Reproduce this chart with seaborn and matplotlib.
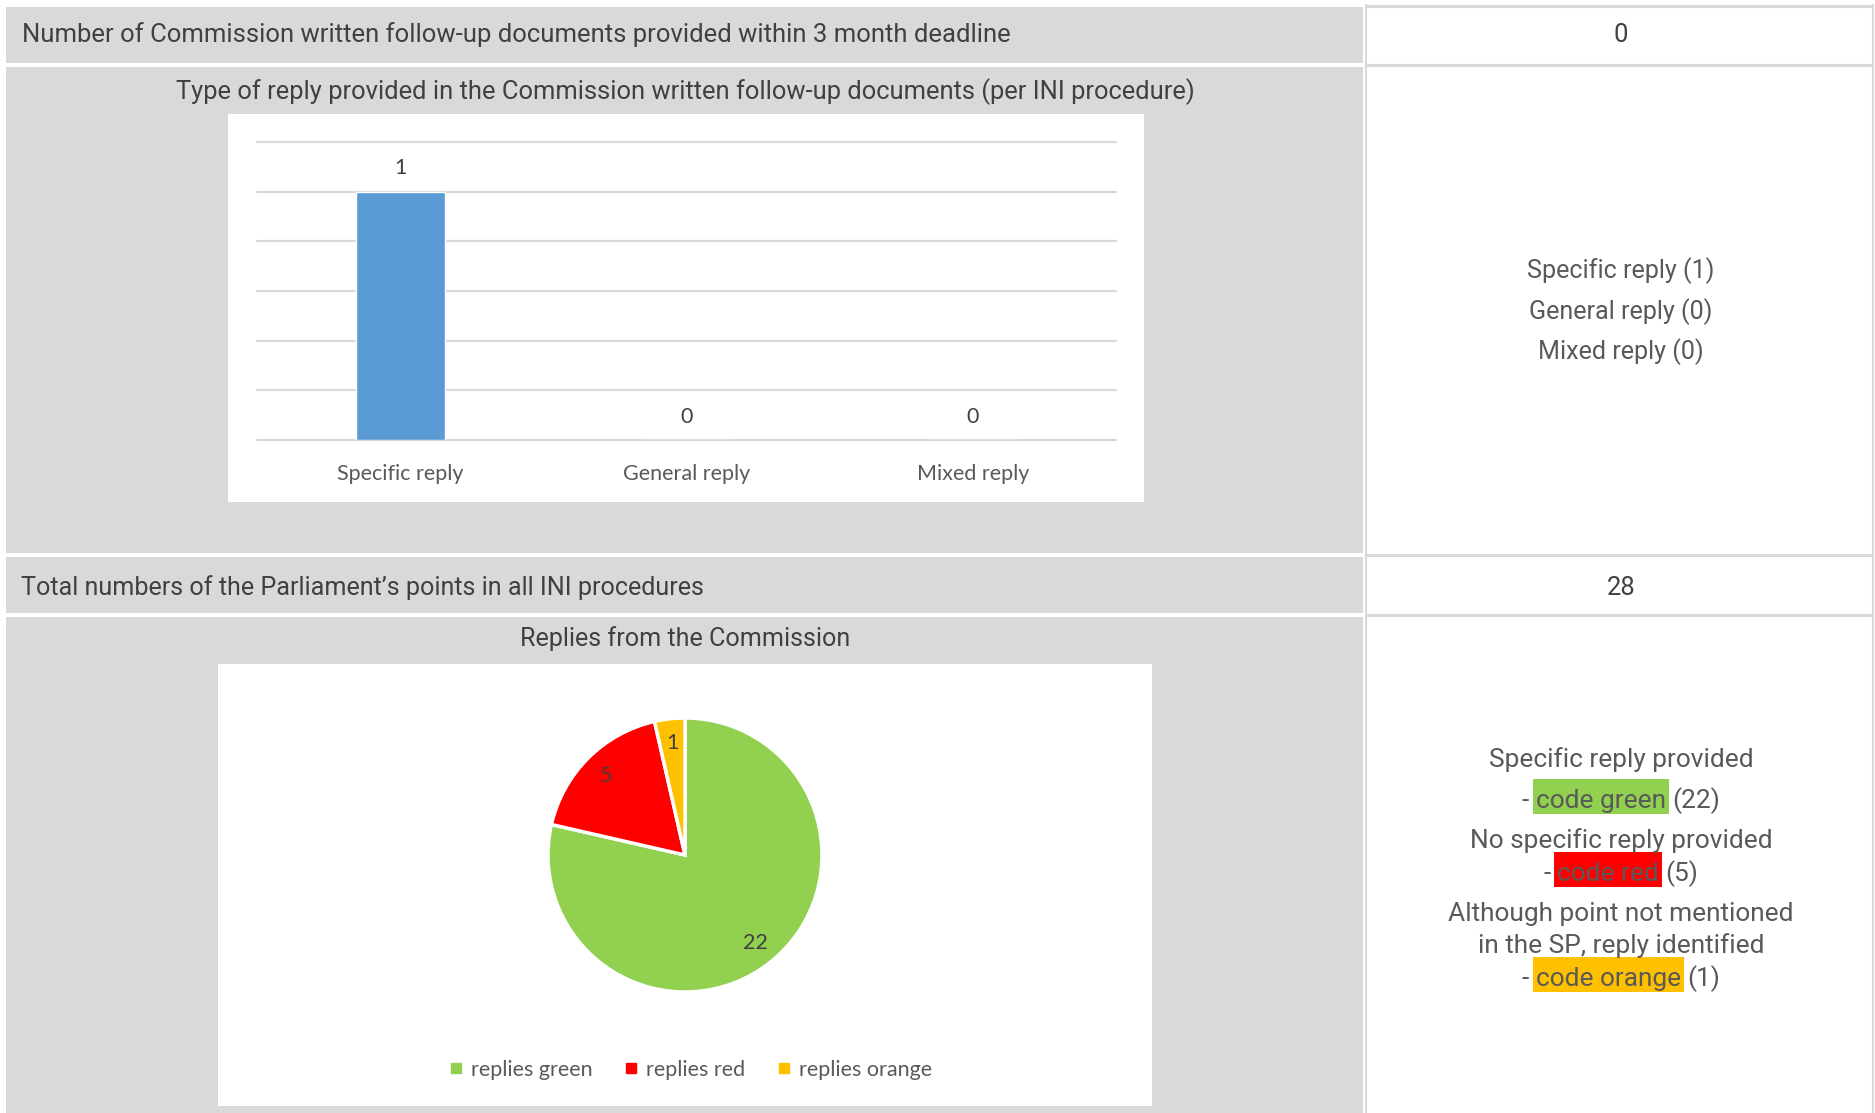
import matplotlib
matplotlib.use("Agg")
import matplotlib.pyplot as plt
import seaborn as sns
import numpy as np
from matplotlib.patches import Rectangle
from matplotlib.lines import Line2D

# ---------------- data ----------------
row1_label = "Number of Commission written follow-up documents provided within 3 month deadline"
row1_value = "0"
bar_title = "Type of reply provided in the Commission written follow-up documents (per INI procedure)"
bar_categories = ["Specific reply", "General reply", "Mixed reply"]
bar_values = [1, 0, 0]
bar_summary = ["Specific reply (1)", "General reply (0)", "Mixed reply (0)"]
row3_label = "Total numbers of the Parliament\u2019s points in all INI procedures"
row3_value = "28"
pie_title = "Replies from the Commission"
pie_labels = ["replies green", "replies red", "replies orange"]
pie_values = [22, 5, 1]
pie_colors = ["#92d050", "#ff0000", "#ffc000"]
pie_summary = [
    "Specific reply provided",
    ("-", "code green", "(22)", "#92d050"),
    "No specific reply provided",
    ("-", "code red", "(5)", "#ff0000"),
    "Although point not mentioned",
    "in the SP, reply identified",
    ("-", "code orange", "(1)", "#ffc000"),
]

# ---------------- style ----------------
sns.set_style("white")
plt.rcParams["font.family"] = ["Roboto", "DejaVu Sans"]
GRAY = "#d9d9d9"
TXT = "#404040"
TXT2 = "#595959"
CHART_FONT = ["Lato", "DejaVu Sans"]
CFS = 15.5

W, H = 1875, 1113
fig = plt.figure(figsize=(W / 100, H / 100), dpi=100)
fig.patch.set_facecolor("white")
bg = fig.add_axes([0, 0, 1, 1])
bg.set_xlim(0, W)
bg.set_ylim(H, 0)
bg.axis("off")
renderer = fig.canvas.get_renderer()

# cells
for (x, y, w, h) in [(6, 7, 1357, 56), (6, 67, 1357, 486), (6, 557, 1357, 56), (6, 617, 1357, 500)]:
    bg.add_patch(Rectangle((x, y), w, h, facecolor=GRAY, edgecolor="none"))
bg.add_patch(Rectangle((228, 114), 916, 388, facecolor="white", edgecolor="none"))
bg.add_patch(Rectangle((218, 664), 934, 442, facecolor="white", edgecolor="none"))
for yy in [5.5, 65, 554.5, 614.5]:
    bg.plot([1366, 1873], [yy, yy], color=GRAY, lw=2.2, solid_capstyle="butt")
for xx in [1366, 1873]:
    bg.plot([xx, xx], [4, H], color=GRAY, lw=1.5, solid_capstyle="butt")


def width_of(s, size, family=None):
    t = bg.text(0, 0, s, fontsize=size, family=family)
    w = t.get_window_extent(renderer).width
    t.remove()
    return w


def fit_size(s, target_w, family=None):
    return 20 * target_w / width_of(s, 20, family)


def put(x, y, s, size, ha="left", color=TXT, family=None):
    # y is visual centre of the line (pixels); place by baseline
    px = size * 100 / 72
    return bg.text(x, y + 0.36 * px, s, fontsize=size, ha=ha, va="baseline",
                   color=color, family=family)


# row texts
put(22, 33, row1_label, fit_size(row1_label, 987))
put(685, 90, bar_title, fit_size(bar_title, 1016), ha="center")
put(21, 586, row3_label, fit_size(row3_label, 680))
put(685, 637, pie_title, fit_size(pie_title, 330), ha="center")
vsize = fit_size(row1_label, 987)
put(1621, 33, row1_value, vsize, ha="center")
put(1621, 586, row3_value, vsize, ha="center")

# bar summary text
s2 = fit_size(bar_summary[0], 187)
for yy, s in zip([269, 310, 350], bar_summary):
    put(1621, yy, s, s2, ha="center", color=TXT2)

# pie summary text
s4 = fit_size("Although point not mentioned", 346)
space = width_of("a a", s4) - width_of("aa", s4)
for yy, item in zip([758, 799, 839, 872, 912, 944, 977], pie_summary):
    if isinstance(item, str):
        put(1621, yy, item, s4, ha="center", color=TXT2)
    else:
        pre, hi, post, col = item
        wp, wh, wq = width_of(pre, s4), width_of(hi, s4), width_of(post, s4)
        total = wp + space + wh + space + wq
        x0 = 1621 - total / 2
        xh = x0 + wp + space
        bg.add_patch(Rectangle((xh - 3, yy - 20), wh + 6, 35, facecolor=col, edgecolor="none"))
        put(x0, yy, pre, s4, color=TXT2)
        put(xh, yy, hi, s4, color=TXT2)
        put(xh + wh + space, yy, post, s4, color=TXT2)

# ---------------- bar chart ----------------
ax_bar = fig.add_axes([257 / W, 1 - 440 / H, (1116 - 257) / W, (440 - 142) / H])
sns.barplot(x=bar_categories, y=bar_values, color="#5b9bd5", saturation=1,
            width=0.31, ax=ax_bar)
ax_bar.set_facecolor("none")
ax_bar.set_xlim(-0.5, 2.5)
ax_bar.set_ylim(0, 1.2)
ax_bar.set_yticks(np.arange(0, 1.21, 0.2))
ax_bar.yaxis.grid(True, color=GRAY, lw=1.6)
for gl in ax_bar.get_ygridlines():
    gl.set_clip_on(False)
ax_bar.set_axisbelow(True)
for sp in ax_bar.spines.values():
    sp.set_visible(False)
ax_bar.set_xlabel("")
ax_bar.set_ylabel("")
ax_bar.tick_params(left=False, bottom=False, labelleft=False, pad=13.5)
for lab in ax_bar.get_xticklabels():
    lab.set_fontsize(CFS)
    lab.set_family(CHART_FONT)
    lab.set_color(TXT2)
ax_bar.bar_label(ax_bar.containers[0], labels=[str(v) for v in bar_values],
                 padding=9.5, fontsize=CFS, color=TXT, family=CHART_FONT)

# ---------------- pie chart ----------------
half = 200
ax_pie = fig.add_axes([(685 - half) / W, 1 - (855 + half) / H, 2 * half / W, 2 * half / H])
total = sum(pie_values)
ax_pie.pie(pie_values, colors=pie_colors, startangle=90, counterclock=False,
           radius=1, autopct=lambda p: f"{round(p * total / 100)}", pctdistance=0.82,
           wedgeprops=dict(edgecolor="white", linewidth=2.5),
           textprops=dict(fontsize=CFS, color=TXT, family=CHART_FONT))
lim = half / 137
ax_pie.set_xlim(-lim, lim)
ax_pie.set_ylim(-lim, lim)
ax_pie.set_aspect("equal")
ax_pie.axis("off")

handles = [Line2D([], [], marker="s", linestyle="", markersize=7, color=c) for c in pie_colors]
fig.legend(handles, pie_labels, loc="center", bbox_to_anchor=(691 / W, 1 - 1070 / H),
           ncol=3, frameon=False, prop=dict(family=CHART_FONT, size=CFS),
           labelcolor=TXT2, handlelength=0.6, handletextpad=0.4, columnspacing=1.5)

fig.savefig("out.png", dpi=100, facecolor="white")
